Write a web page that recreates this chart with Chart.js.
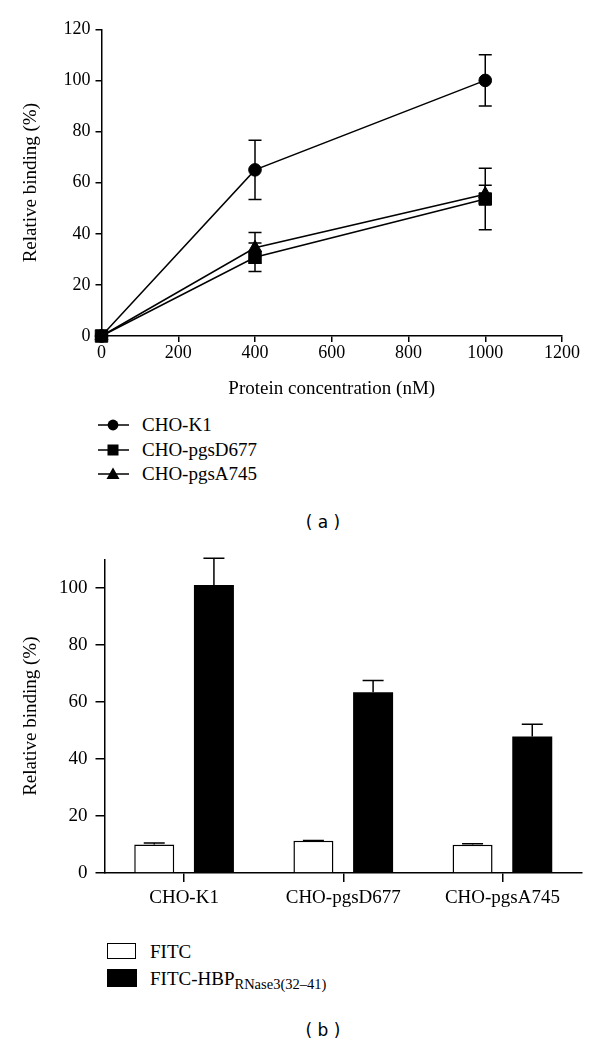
<!DOCTYPE html>
<html><head><meta charset="utf-8">
<script src="https://cdn.jsdelivr.net/npm/chart.js@4.4.1/dist/chart.umd.min.js"></script>
<style>
html,body{margin:0;padding:0;background:#fff;}
#wrap{position:relative;width:600px;height:1043px;overflow:hidden;background:#fff;}
canvas{position:absolute;left:0;}
.lg{position:absolute;font-family:"Liberation Serif",serif;font-size:19px;line-height:22px;color:#000;white-space:nowrap;}
.lg sub{font-size:14.5px;vertical-align:-4px;line-height:0;}
.cap{position:absolute;font-family:"DejaVu Sans",sans-serif;font-size:17px;line-height:20px;width:120px;text-align:center;color:#000;white-space:pre;}
.ico{position:absolute;left:96px;width:36px;height:20px;}
</style></head>
<body><div id="wrap">
<canvas id="c1" width="600" height="405" style="top:0"></canvas>
<canvas id="c2" width="600" height="380" style="top:540px"></canvas>

<svg class="ico" style="top:415px" viewBox="0 0 36 20"><line x1="2" y1="10" x2="33" y2="10" stroke="#000" stroke-width="1.5"/><circle cx="17" cy="10" r="5.4" fill="#000"/></svg>
<div class="lg" style="left:142px;top:414px">CHO-K1</div>
<svg class="ico" style="top:440px" viewBox="0 0 36 20"><line x1="2" y1="10" x2="33" y2="10" stroke="#000" stroke-width="1.5"/><rect x="11.5" y="4.5" width="11" height="11" fill="#000"/></svg>
<div class="lg" style="left:142px;top:439px">CHO-pgsD677</div>
<svg class="ico" style="top:464px" viewBox="0 0 36 20"><line x1="2" y1="10" x2="33" y2="10" stroke="#000" stroke-width="1.5"/><polygon points="17,3.5 23.5,15 10.5,15" fill="#000"/></svg>
<div class="lg" style="left:142px;top:463px">CHO-pgsA745</div>
<div class="cap" style="left:263px;top:512px">( a )</div>

<div style="position:absolute;left:107px;top:943px;width:29px;height:16px;border:1.5px solid #000;box-sizing:border-box;background:#fff"></div>
<div class="lg" style="left:150px;top:941px">FITC</div>
<div style="position:absolute;left:107px;top:969px;width:30px;height:18px;background:#000"></div>
<div class="lg" style="left:150px;top:968px">FITC-HBP<sub>RNase3(32–41)</sub></div>
<div class="cap" style="left:263px;top:1020px">( b )</div>
</div>
<script>
// ---- Panel (a) data ----
const concentrations = [0, 400, 1000];
const k1Binding   = [0, 65, 100];
const k1Err       = [0, 11.6, 10];
const d677Binding = [0, 30.8, 53.6];
const d677Err     = [0, 5.6, 12];
const a745Binding = [0, 34.5, 55.5];
const a745Err     = [0, 6, 3.5];
const seriesNames = ['CHO-K1', 'CHO-pgsD677', 'CHO-pgsA745'];

// ---- Panel (b) data ----
const cellLines   = ['CHO-K1', 'CHO-pgsD677', 'CHO-pgsA745'];
const fitcBinding = [10.0, 11.3, 9.9];
const fitcErr     = [0.5, 0.1, 0.4];
const hbpBinding  = [101.0, 63.4, 47.9];
const hbpErr      = [9.4, 4.1, 4.3];

const SERIF = '"Liberation Serif", "Times New Roman", serif';
Chart.defaults.font.family = SERIF;
Chart.defaults.color = '#000';

const errPlugin = {
  id: 'errbars',
  beforeDatasetsDraw(chart, args, opts) { if (opts.mode === 'line') drawErr(chart, opts); },
  afterDatasetsDraw(chart, args, opts) { if (opts.mode === 'bar') drawErr(chart, opts); }
};
function drawErr(chart, opts) {
  const ctx = chart.ctx, ys = chart.scales.y;
  ctx.save();
  ctx.strokeStyle = '#000';
  ctx.lineWidth = 1.5;
  chart.data.datasets.forEach((ds, d) => {
    const meta = chart.getDatasetMeta(d);
    meta.data.forEach((el, j) => {
      const e = opts.errors[d][j];
      if (!e) return;
      const v = typeof ds.data[j] === 'object' ? ds.data[j].y : ds.data[j];
      const x = el.x;
      const top = ys.getPixelForValue(v + e);
      const bot = opts.mode === 'bar' ? ys.getPixelForValue(v) : ys.getPixelForValue(v - e);
      const hw = opts.capHalf;
      ctx.beginPath();
      ctx.moveTo(x, top); ctx.lineTo(x, bot);
      ctx.moveTo(x - hw, top); ctx.lineTo(x + hw, top);
      if (opts.mode === 'line') { ctx.moveTo(x - hw, bot); ctx.lineTo(x + hw, bot); }
      ctx.stroke();
    });
  });
  ctx.restore();
}

function axisCommon(tickLen, fontSize, pad) {
  return {
    grid: { display: true, drawOnChartArea: false, drawTicks: true, tickLength: tickLen, color: '#000', lineWidth: 1.5 },
    border: { display: true, color: '#000', width: 1.5 },
    ticks: { color: '#000', font: { family: SERIF, size: fontSize }, padding: pad, maxRotation: 0 }
  };
}

// ---- Chart (a) ----
const pts = arr => concentrations.map((c, i) => ({ x: c, y: arr[i] }));
const styles = [['circle', 6.3], ['rect', 8.8], ['triangle', 7.5]];
const aData = [k1Binding, d677Binding, a745Binding];
const ax = axisCommon(6, 18, 0);
const ay = axisCommon(6, 18, 5);
new Chart(document.getElementById('c1'), {
  type: 'line',
  data: {
    datasets: aData.map((arr, i) => ({
      label: seriesNames[i],
      data: pts(arr),
      borderColor: '#000', borderWidth: 1.5,
      backgroundColor: '#000',
      pointStyle: styles[i][0], pointRadius: styles[i][1],
      pointBackgroundColor: '#000', pointBorderColor: '#000', pointBorderWidth: 1,
      clip: false, tension: 0
    }))
  },
  options: {
    responsive: false, animation: false, devicePixelRatio: 1,
    layout: { padding: { left: 0, right: 38, top: 29.3, bottom: 0 } },
    plugins: {
      legend: { display: false }, tooltip: { enabled: false },
      errbars: { mode: 'line', errors: [k1Err, d677Err, a745Err], capHalf: 6.5 }
    },
    scales: {
      x: Object.assign(ax, {
        type: 'linear', min: 0, max: 1200,
        ticks: Object.assign(ax.ticks, { stepSize: 200, callback: v => String(v) }),
        title: { display: true, text: 'Protein concentration (nM)', color: '#000', font: { family: SERIF, size: 19 }, padding: { top: 0, bottom: 5 } },
        afterFit(s) { s.height = 69; }
      }),
      y: Object.assign(ay, {
        type: 'linear', min: 0, max: 120,
        ticks: Object.assign(ay.ticks, { stepSize: 20, callback: v => String(v) }),
        title: { display: true, text: 'Relative binding (%)', color: '#000', font: { family: SERIF, size: 19 }, padding: { top: 19.6, bottom: 0 } },
        afterFit(s) { s.width = 101.5; }
      })
    }
  },
  plugins: [errPlugin]
});

// ---- Chart (b) ----
const bx = axisCommon(9, 19, 5);
const by = axisCommon(9, 19, 8);
new Chart(document.getElementById('c2'), {
  type: 'bar',
  data: {
    labels: cellLines,
    datasets: [
      { label: 'FITC', data: fitcBinding, backgroundColor: '#fff', borderColor: '#000', borderWidth: 1.5, borderSkipped: 'bottom',
        categoryPercentage: 0.75, barPercentage: 0.67 },
      { label: 'FITC-HBP RNase3(32–41)', data: hbpBinding, backgroundColor: '#000', borderColor: '#000', borderWidth: 0,
        categoryPercentage: 0.75, barPercentage: 0.67 }
    ]
  },
  options: {
    responsive: false, animation: false, devicePixelRatio: 1,
    layout: { padding: { left: 0, right: 18, top: 17, bottom: 0 } },
    plugins: {
      legend: { display: false }, tooltip: { enabled: false },
      errbars: { mode: 'bar', errors: [fitcErr, hbpErr], capHalf: 10.5 }
    },
    scales: {
      x: Object.assign(bx, {
        grid: Object.assign(bx.grid, { offset: false }),
        afterFit(s) { s.height = 47; }
      }),
      y: Object.assign(by, {
        min: 0, max: 110,
        ticks: Object.assign(by.ticks, { stepSize: 20, includeBounds: false, callback: v => String(v) }),
        title: { display: true, text: 'Relative binding (%)', color: '#000', font: { family: SERIF, size: 19 }, padding: { top: 19.6, bottom: 0 } },
        afterFit(s) { s.width = 104.5; }
      })
    }
  },
  plugins: [errPlugin]
});
</script>
</body></html>
